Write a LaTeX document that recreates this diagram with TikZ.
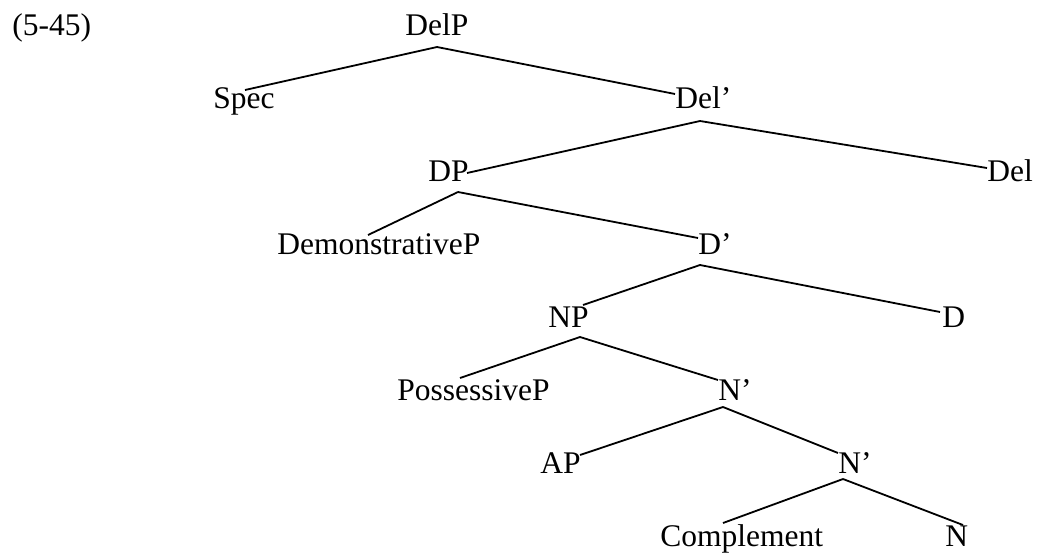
\documentclass[tikz,border=0pt]{standalone}
\usepackage{fontspec}
\setmainfont{Liberation Serif}

\begin{document}
\begin{tikzpicture}[x=0.5pt,y=-0.5pt,
    lbl/.style={anchor=base west,inner sep=0pt,font=\fontsize{15.75}{19}\selectfont},
    branch/.style={line width=0.9pt}]
            \useasboundingbox (0,0) rectangle (1037,552);

            \node[lbl] (num) at (12,35) {(5-45)};

            % labels, one row every 73 units
            \node[lbl] (delp)   at (405,35)  {DelP};
            \node[lbl] (spec)   at (213,108) {Spec};
            \node[lbl] (delbar) at (675,108) {Del’};
            \node[lbl] (dp)     at (428,181) {DP};
            \node[lbl] (del)    at (987,181) {Del};
            \node[lbl] (dem)    at (277,254) {DemonstrativeP};
            \node[lbl] (dbar)   at (698,254) {D’};
            \node[lbl] (np)     at (548,327) {NP};
            \node[lbl] (d)      at (942,327) {D};
            \node[lbl] (poss)   at (397,400) {PossessiveP};
            \node[lbl] (nbar)   at (718,400) {N’};
            \node[lbl] (ap)     at (540,473) {AP};
            \node[lbl] (nbarb)  at (838,473) {N’};
            \node[lbl] (compl)  at (660,546) {Complement};
            \node[lbl] (n)      at (945,546) {N};

             %branches: parent/fork offset/child/end offset
                 \foreach \p/\a/\c/\b in {
                         delp/{(32,12)}/spec/{(32,-18)},
                         delp/{(32,12)}/delbar/{(0,-14)},
                         delbar/{(25,13)}/dp/{(39,-8)},
                         delbar/{(25,13)}/del/{(0,-13)},
                         dp/{(30,11)}/dem/{(91,-19)},
                         dp/{(30,11)}/dbar/{(0,-16)},
                         dbar/{(2,11)}/np/{(35,-22)},
                         dbar/{(2,11)}/d/{(-2,-15)},
                         np/{(32,10)}/poss/{(63,-22)},
                         np/{(32,10)}/nbar/{(0,-20)},
                         nbar/{(5,7)}/ap/{(40,-18)},
                         nbar/{(5,7)}/nbarb/{(0,-20)},
                         nbarb/{(5,6)}/compl/{(63,-23)},
                         nbarb/{(5,6)}/n/{(18,-21)}}
                     \draw[branch] ([shift={\a}]\p.base west) -- ([shift={\b}]\c.base west);
             \end{tikzpicture}
\end{document}
